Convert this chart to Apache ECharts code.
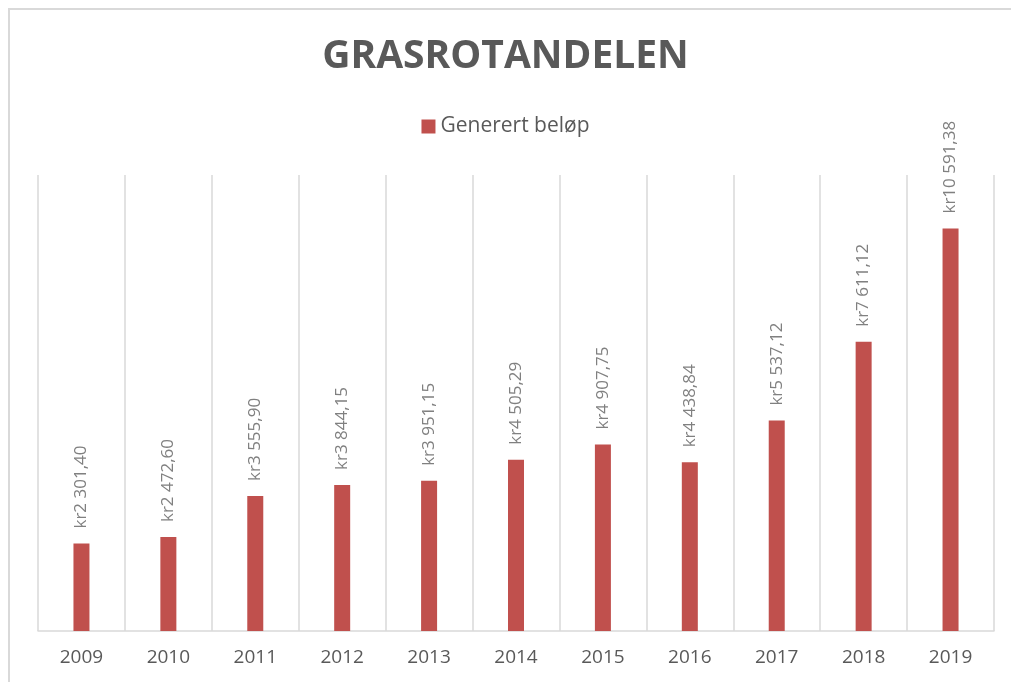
<!DOCTYPE html>
<html>
<head>
<meta charset="utf-8">
<script src="https://cdn.jsdelivr.net/npm/echarts@6/dist/echarts.min.js"></script>
<style>
	html, body { margin: 0; padding: 0; background: #fff; }
	#chartDiv { width: 1011px; height: 682px; }
</style>
</head>
<body>
<div id="chartDiv"></div>
<script>
const years = ['2009', '2010', '2011', '2012', '2013', '2014', '2015', '2016', '2017', '2018', '2019'];
const amounts = [2301.40, 2472.60, 3555.90, 3844.15, 3951.15, 4505.29, 4907.75, 4438.84, 5537.12, 7611.12, 10591.38];
const seriesName = 'Generert beløp';

// kr-format like "kr2 301,40"
const formatKr = (v) => {
	let parts = v.toFixed(2).split('.');
	let whole = parts[0].replace(/\B(?=(\d{3})+(?!\d))/g, ' ');
	return 'kr' + whole + ',' + parts[1];
};

let chart = echarts.init(document.getElementById('chartDiv'));
let option = {
	backgroundColor: '#fff',
	textStyle: {
		fontFamily: 'Open Sans'
	},
	title: {
		text: 'GRASROTANDELEN',
		left: 'center',
		top: 32,
		textStyle: {
			color: '#595959',
			fontSize: 39,
			fontWeight: 'bold',
			fontFamily: 'Open Sans'
		}
	},
	legend: {
		top: 111,
		left: 'center',
		itemWidth: 14,
		itemHeight: 14,
		itemGap: 10,
		icon: 'rect',
		textStyle: {
			color: '#595959',
			fontSize: 21
		},
		data: [seriesName]
	},
	grid: {
		left: 38,
		right: 17,
		top: 175,
		bottom: 51
	},
	graphic: [{
		type: 'rect',
		shape: { x: 9, y: 9, width: 1100, height: 700 },
		style: { fill: 'none', stroke: '#d9d9d9', lineWidth: 2 },
		silent: true
	}],
	xAxis: {
		type: 'category',
		data: years,
		axisTick: { show: false },
		axisLine: { lineStyle: { color: '#d9d9d9', width: 1.5 } },
		axisLabel: {
			color: '#595959',
			fontSize: 19,
			margin: 17
		},
		splitLine: {
			show: true,
			interval: 0,
			lineStyle: { color: '#d9d9d9', width: 1.5 }
		}
	},
	yAxis: {
		type: 'value',
		min: 0,
		max: 12000,
		show: false,
		splitLine: { show: false }
	},
	series: [{
		name: seriesName,
		type: 'bar',
		barWidth: 16,
		itemStyle: { color: '#c0504d' },
		label: {
			show: true,
			position: 'top',
			rotate: 90,
			align: 'left',
			verticalAlign: 'middle',
			distance: 15,
			color: '#808080',
			fontSize: 17,
			formatter: (p) => formatKr(p.value)
		},
		data: amounts
	}]
};
chart.setOption(option);
</script>
</body>
</html>
